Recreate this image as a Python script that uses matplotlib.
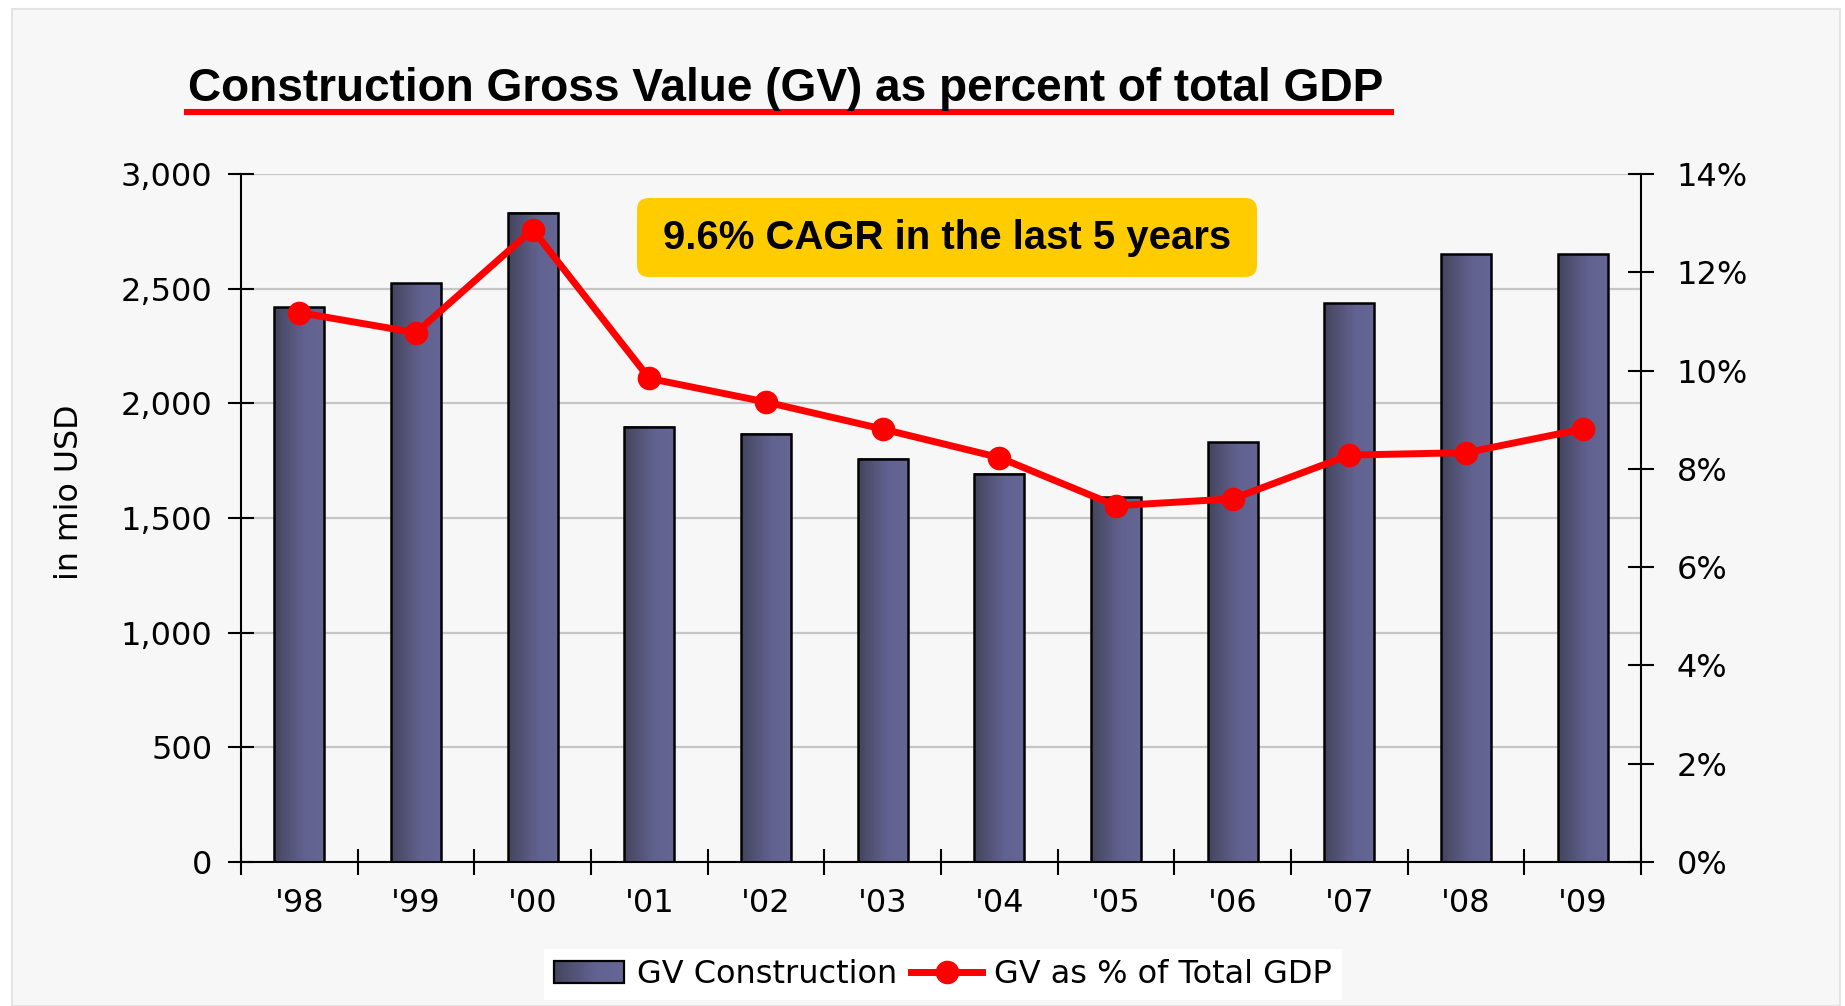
import numpy as np
import matplotlib
matplotlib.use('Agg')
import matplotlib.pyplot as plt
from matplotlib import font_manager
from matplotlib.patches import Rectangle, FancyBboxPatch
from matplotlib.lines import Line2D
from matplotlib.legend_handler import HandlerBase
from matplotlib.colors import LinearSegmentedColormap
from matplotlib.transforms import IdentityTransform
from matplotlib.ticker import FuncFormatter

# ---------------- data ----------------
years = ["'98", "'99", "'00", "'01", "'02", "'03", "'04", "'05", "'06", "'07", "'08", "'09"]
gv_construction = [2420, 2523, 2831, 1897, 1867, 1759, 1692, 1590, 1831, 2436, 2651, 2651]
gv_pct_gdp = [11.18, 10.77, 12.87, 9.84, 9.36, 8.81, 8.23, 7.25, 7.39, 8.28, 8.33, 8.81]
left_ticks = [0, 500, 1000, 1500, 2000, 2500, 3000]
right_ticks = [0, 2, 4, 6, 8, 10, 12, 14]
title_text = "Construction Gross Value (GV) as percent of total GDP"
callout_text = "9.6% CAGR in the last 5 years"
ylabel_text = "in mio USD"
legend_labels = ["GV Construction", "GV as % of Total GDP"]

# ---------------- setup ----------------
W, H = 1845, 1006
fig = plt.figure(figsize=(W / 100, H / 100), dpi=100)
fig.patch.set_facecolor('white')

names = {f.name for f in font_manager.fontManager.ttflist}
narrow = 'Liberation Sans Narrow' if 'Liberation Sans Narrow' in names else 'Liberation Sans'
tick_font = 'DejaVu Sans'
tick_size = 23

# background panel
fig.patches.append(Rectangle((12 / W, 0), (1840 - 12) / W, (H - 9) / H,
                             transform=fig.transFigure, facecolor='#f7f7f7',
                             edgecolor='#e4e4e4', lw=1.5, zorder=-5))

cmap = LinearSegmentedColormap.from_list(
    'bar', [(0.0, '#44445e'), (0.6, '#626290'), (1.0, '#666696')])

ax1 = fig.add_axes([241 / W, 1 - 862 / H, (1641 - 241) / W, (862 - 174) / H])
ax1.patch.set_visible(False)

x = np.arange(len(years))
bar_w = 0.43
grad = np.linspace(0, 1, 256).reshape(1, -1)
for xi, v in zip(x, gv_construction):
    ax1.imshow(grad, extent=(xi - bar_w / 2, xi + bar_w / 2, 0, v), aspect='auto',
               cmap=cmap, zorder=2.5, interpolation='bilinear')
ax1.bar(x, gv_construction, width=bar_w, facecolor='none', edgecolor='black',
        lw=1.8, zorder=3)

ax1.set_xlim(-0.5, len(years) - 0.5)
ax1.set_ylim(0, 3000)
ax1.set_yticks(left_ticks)
ax1.yaxis.set_major_formatter(FuncFormatter(lambda v, p: f"{int(v):,}"))
ax1.yaxis.grid(True, color='#c6c6c6', lw=1.6)
ax1.set_axisbelow(True)

ax1.set_xticks(np.arange(-0.5, len(years), 1))
ax1.set_xticks(x, minor=True)
ax1.set_xticklabels(years, minor=True)
ax1.tick_params(axis='x', which='major', direction='inout', length=19, width=1.5,
                labelbottom=False)
ax1.tick_params(axis='x', which='minor', length=0, pad=19, labelsize=tick_size)
ax1.tick_params(axis='y', direction='inout', length=19, width=1.5, pad=11,
                labelsize=tick_size)
for lab in ax1.get_xticklabels(minor=True) + ax1.get_yticklabels():
    lab.set_fontfamily(tick_font)

for s in ['top', 'right']:
    ax1.spines[s].set_visible(False)
for s in ['left', 'bottom']:
    ax1.spines[s].set_linewidth(1.5)
    ax1.spines[s].set_color('black')

ax2 = ax1.twinx()
ax2.plot(x, gv_pct_gdp, color='#ff0000', lw=5, marker='o', ms=16, zorder=5,
         solid_joinstyle='round')
ax2.set_ylim(0, 14)
ax2.set_yticks(right_ticks)
ax2.yaxis.set_major_formatter(FuncFormatter(lambda v, p: f"{int(v)}%"))
ax2.tick_params(axis='y', direction='inout', length=19, width=1.5, pad=16,
                labelsize=tick_size)
for lab in ax2.get_yticklabels():
    lab.set_fontfamily(tick_font)
for s in ['top', 'left', 'bottom']:
    ax2.spines[s].set_visible(False)
ax2.spines['right'].set_linewidth(1.5)

# y label
fig.text(69 / W, 1 - 492 / H, ylabel_text, rotation=90, ha='center', va='center',
         fontsize=22.8, family=tick_font)

# title + underline
renderer = fig.canvas.get_renderer()


def fit(t, target):
    w = t.get_window_extent(renderer).width
    t.set_fontsize(t.get_fontsize() * target / w)


title = fig.text(188 / W, 1 - 101 / H, title_text, ha='left', va='baseline',
                 fontsize=36, fontweight='bold', family=narrow)
fit(title, 1198)
fig.add_artist(Line2D([184 / W, 1394 / W], [1 - 112 / H, 1 - 112 / H],
                      transform=fig.transFigure, color='#ff0000', lw=4.4,
                      solid_capstyle='butt'))

# callout
box = FancyBboxPatch((637, H - 277), 620, 79, boxstyle='round,pad=0,rounding_size=12',
                     transform=IdentityTransform(), facecolor='#ffcc00',
                     edgecolor='none', zorder=6)
fig.patches.append(box)
callout = fig.text(947 / W, 1 - 238 / H, callout_text, ha='center', va='center',
                   fontsize=28, fontweight='bold', family=narrow, zorder=7)
fit(callout, 569)


# legend
class GradHandle:
    pass


class HandlerGrad(HandlerBase):
    def create_artists(self, legend, orig_handle, xdescent, ydescent, width, height,
                       fontsize, trans):
        arts = []
        n = 40
        for i in range(n):
            arts.append(Rectangle((-xdescent + i * width / n, -ydescent), width / n * 1.05,
                                  height, facecolor=cmap((i + 0.5) / n),
                                  edgecolor='none', transform=trans))
        arts.append(Rectangle((-xdescent, -ydescent), width, height, facecolor='none',
                              edgecolor='black', lw=1.6, transform=trans))
        return arts


line_handle = Line2D([], [], color='#ff0000', lw=5, marker='o', ms=16)
leg = fig.legend(handles=[GradHandle(), line_handle], labels=legend_labels,
                 handler_map={GradHandle: HandlerGrad()}, loc='center',
                 bbox_to_anchor=(943 / W, 1 - 974.5 / H), ncol=2, frameon=True,
                 fancybox=False, facecolor='white', edgecolor='none', framealpha=1,
                 prop={'family': tick_font, 'size': 23}, handlelength=2.2,
                 handletextpad=0.4, columnspacing=0.45, borderpad=0.3,
                 borderaxespad=0, numpoints=1)

fig.savefig('out.png', dpi=100, facecolor='white')
